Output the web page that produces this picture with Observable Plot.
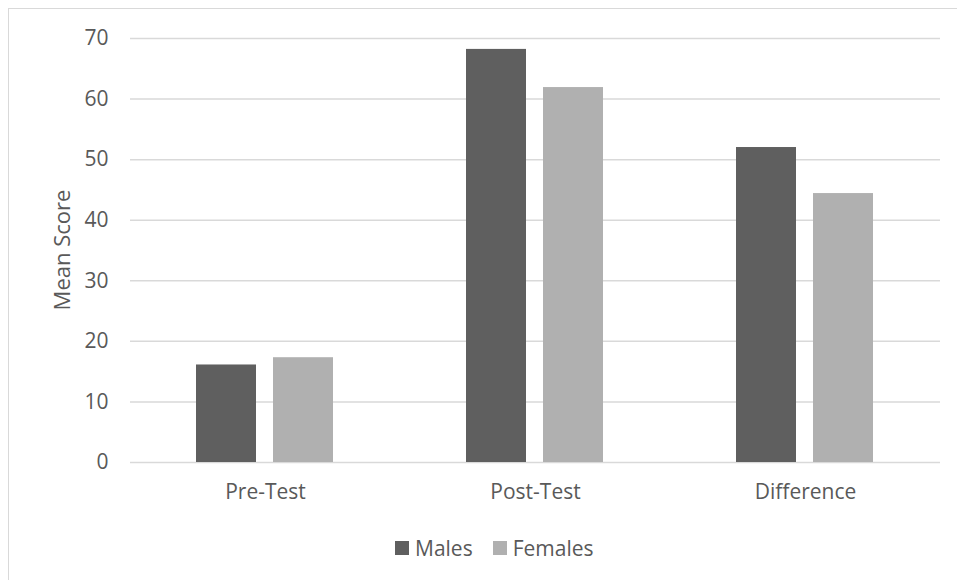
<!DOCTYPE html>
<html>
<head>
<meta charset="utf-8">
<script src="https://cdn.jsdelivr.net/npm/d3@7"></script>
<script src="https://cdn.jsdelivr.net/npm/@observablehq/plot@0.6"></script>
<style>
  html, body { margin: 0; padding: 0; background: #fff; }
  #wrap { position: relative; width: 957px; height: 580px; overflow: hidden; font-family: "Open Sans", sans-serif; color: #595959; }
  #border { position: absolute; left: 8px; top: 8px; width: 1000px; height: 1000px; border-left: 1.5px solid #d9d9d9; border-top: 1.5px solid #d9d9d9; }
  #chart { position: absolute; left: 0; top: 0; }
  #ylabel { position: absolute; left: 61px; top: 250px; transform: translate(-50%, -50%) rotate(-90deg); font-size: 22px; white-space: nowrap; line-height: 1; }
  #legend { position: absolute; left: 395px; top: 534px; display: flex; align-items: center; font-size: 21px; white-space: nowrap; }
  .item { display: flex; align-items: center; margin-right: 20px; }
  .sw { width: 14px; height: 14px; margin-right: 6px; }
</style>
</head>
<body>
<div id="wrap">
  <div id="border"></div>
  <div id="chart"></div>
  <div id="ylabel">Mean Score</div>
  <div id="legend"></div>
</div>
<script>
const categories = ["Pre-Test", "Post-Test", "Difference"];
const seriesNames = ["Males", "Females"];
const males = [16.1, 68.2, 52.0];
const females = [17.3, 61.9, 44.4];
const yTicks = [0, 10, 20, 30, 40, 50, 60, 70];
const colors = ["#5f5f5f", "#b0b0b0"];

const data = [];
categories.forEach((c, i) => {
  data.push({category: c, series: seriesNames[0], value: males[i]});
  data.push({category: c, series: seriesNames[1], value: females[i]});
});

const plot = Plot.plot({
  width: 957,
  height: 520,
  marginLeft: 129,
  marginRight: 17,
  marginTop: 38,
  marginBottom: 58,
  style: {fontFamily: "Open Sans, sans-serif", fontSize: "21px", color: "#595959", background: "transparent"},
  fx: {domain: categories, padding: 0, label: null},
  x: {domain: seriesNames, paddingInner: 0.22, paddingOuter: 0.863, axis: null},
  y: {domain: [0, 70], label: null},
  color: {domain: seriesNames, range: colors},
  marks: [
    Plot.gridY(yTicks, {stroke: "#d9d9d9", strokeOpacity: 1, strokeWidth: 1.5}),
    Plot.barY(data, {fx: "category", x: "series", y: "value", fill: "series"}),
    Plot.axisY({ticks: yTicks, tickSize: 0, tickPadding: 22, label: null}),
    Plot.axisFx({anchor: "bottom", tickSize: 0, tickPadding: 22, label: null})
  ]
});
document.getElementById("chart").appendChild(plot);

const legend = document.getElementById("legend");
seriesNames.forEach((s, i) => {
  const item = document.createElement("div");
  item.className = "item";
  const sw = document.createElement("div");
  sw.className = "sw";
  sw.style.background = colors[i];
  const t = document.createElement("span");
  t.textContent = s;
  item.appendChild(sw);
  item.appendChild(t);
  legend.appendChild(item);
});
</script>
</body>
</html>
